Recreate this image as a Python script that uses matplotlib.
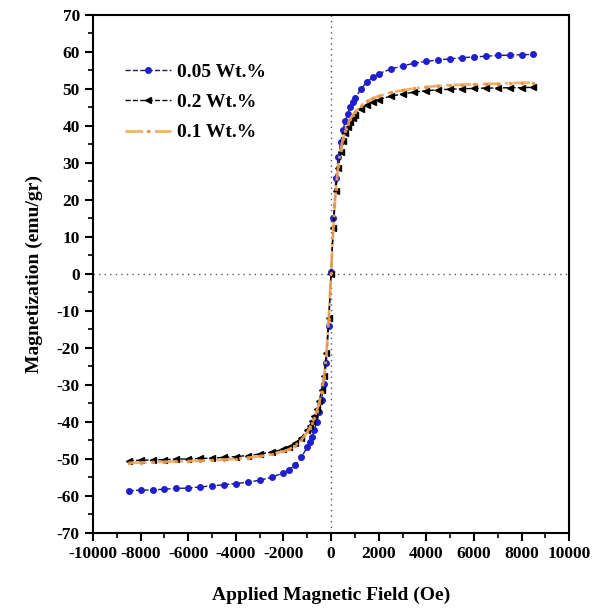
import matplotlib
matplotlib.use("Agg")
import matplotlib.pyplot as plt
from matplotlib.ticker import MultipleLocator

field = [-8500, -8000, -7500, -7000, -6500, -6000, -5500, -5000, -4500, -4000, -3500, -3000, -2500, -2000,
         -1750, -1500, -1250, -1000, -900, -800, -700, -600, -500, -400, -300, -200, -100, 0,
         100, 200, 300, 400, 500, 600, 700, 800, 900, 1000, 1250, 1500, 1750,
         2000, 2500, 3000, 3500, 4000, 4500, 5000, 5500, 6000, 6500, 7000, 7500, 8000, 8500]

m_005 = [-58.6, -58.5, -58.4, -58.2, -58.0, -57.9, -57.6, -57.3, -57.0, -56.7, -56.3, -55.8, -55.0, -53.8,
         -52.9, -51.6, -49.6, -46.8, -45.5, -44.0, -42.2, -40.0, -37.3, -34.0, -29.8, -24.0, -14.0, 0.5,
         15.0, 26.0, 31.5, 35.5, 38.8, 41.3, 43.3, 45.0, 46.3, 47.4, 49.9, 51.8, 53.1,
         54.1, 55.3, 56.2, 56.9, 57.4, 57.8, 58.1, 58.4, 58.6, 58.8, 59.0, 59.1, 59.2, 59.3]

m_02 = [-50.5, -50.4, -50.3, -50.2, -50.1, -50.0, -49.9, -49.8, -49.6, -49.4, -49.1, -48.7, -48.2, -47.4,
        -46.8, -45.8, -44.3, -42.2, -41.1, -39.8, -38.3, -36.5, -34.3, -31.5, -27.5, -21.5, -12.0, 0.0,
        12.5, 22.5, 28.5, 32.8, 35.8, 38.0, 39.7, 41.0, 42.0, 42.9, 44.6, 45.7, 46.5,
        47.1, 48.0, 48.6, 49.1, 49.5, 49.7, 49.9, 50.0, 50.1, 50.2, 50.2, 50.3, 50.3, 50.4]

m_01 = [-51.1, -51.0, -50.9, -50.8, -50.7, -50.6, -50.5, -50.4, -50.2, -50.0, -49.7, -49.3, -48.8, -48.0,
        -47.4, -46.4, -44.9, -42.8, -41.7, -40.4, -38.9, -37.1, -34.8, -32.0, -28.0, -22.0, -12.3, 0.2,
        12.9, 23.0, 29.1, 33.4, 36.5, 38.7, 40.4, 41.8, 42.8, 43.7, 45.4, 46.6, 47.4,
        48.0, 49.0, 49.6, 50.1, 50.5, 50.8, 51.0, 51.1, 51.2, 51.3, 51.4, 51.5, 51.6, 51.7]

labels = ["0.05 Wt.%", "0.2 Wt.%", "0.1 Wt.%"]
xticks = list(range(-10000, 10001, 2000))
yticks = list(range(-70, 71, 10))

plt.rcParams['font.family'] = ['Liberation Serif', 'DejaVu Serif']
plt.rcParams['font.weight'] = 'bold'
plt.rcParams['axes.unicode_minus'] = False

fig = plt.figure(figsize=(5.96, 6.16), dpi=100)
ax = fig.add_axes([0.156, 0.135, 0.799, 0.841])

ax.axvline(0, color='#555555', ls=(0, (1, 3)), lw=1.0, zorder=1)
ax.axhline(0, color='#555555', ls=(0, (1, 3)), lw=1.0, zorder=1)

ax.plot(field, m_005, ls='--', color='#1a1a66', lw=1.0, marker='o', ms=4,
        mfc='#1f1fd0', mec='#1f1fd0', label=labels[0], zorder=3)
ax.plot(field, m_02, ls='--', color='black', lw=1.0, marker='<', ms=5,
        mfc='black', mec='black', label=labels[1], zorder=3)
ax.plot(field, m_01, ls='-.', color='#f0a860', lw=2.0, marker='.', ms=3,
        mfc='#e89040', mec='#e89040', label=labels[2], zorder=4, alpha=0.9)

ax.set_xlim(-10000, 10000)
ax.set_ylim(-70, 70)
ax.set_xticks(xticks)
ax.set_yticks(yticks)
ax.xaxis.set_minor_locator(MultipleLocator(1000))
ax.yaxis.set_minor_locator(MultipleLocator(5))
ax.tick_params(which='major', direction='out', length=6, width=1.5, labelsize=12.5, top=False, right=False)
ax.tick_params(which='minor', direction='out', length=3.5, width=1.2, top=False, right=False)
for lab in ax.get_xticklabels() + ax.get_yticklabels():
    lab.set_fontweight('bold')
for s in ax.spines.values():
    s.set_linewidth(1.5)

ax.set_xlabel("Applied Magnetic Field (Oe)", fontsize=14, fontweight='bold', labelpad=18)
ax.set_ylabel("Magnetization (emu/gr)", fontsize=14, fontweight='bold', labelpad=10)

leg = ax.legend(loc='upper left', bbox_to_anchor=(0.03, 0.94), frameon=False,
                prop={'size': 14, 'weight': 'bold'}, handlelength=2.4, labelspacing=0.65,
                handletextpad=0.3)

fig.savefig("out.png", dpi=100)
